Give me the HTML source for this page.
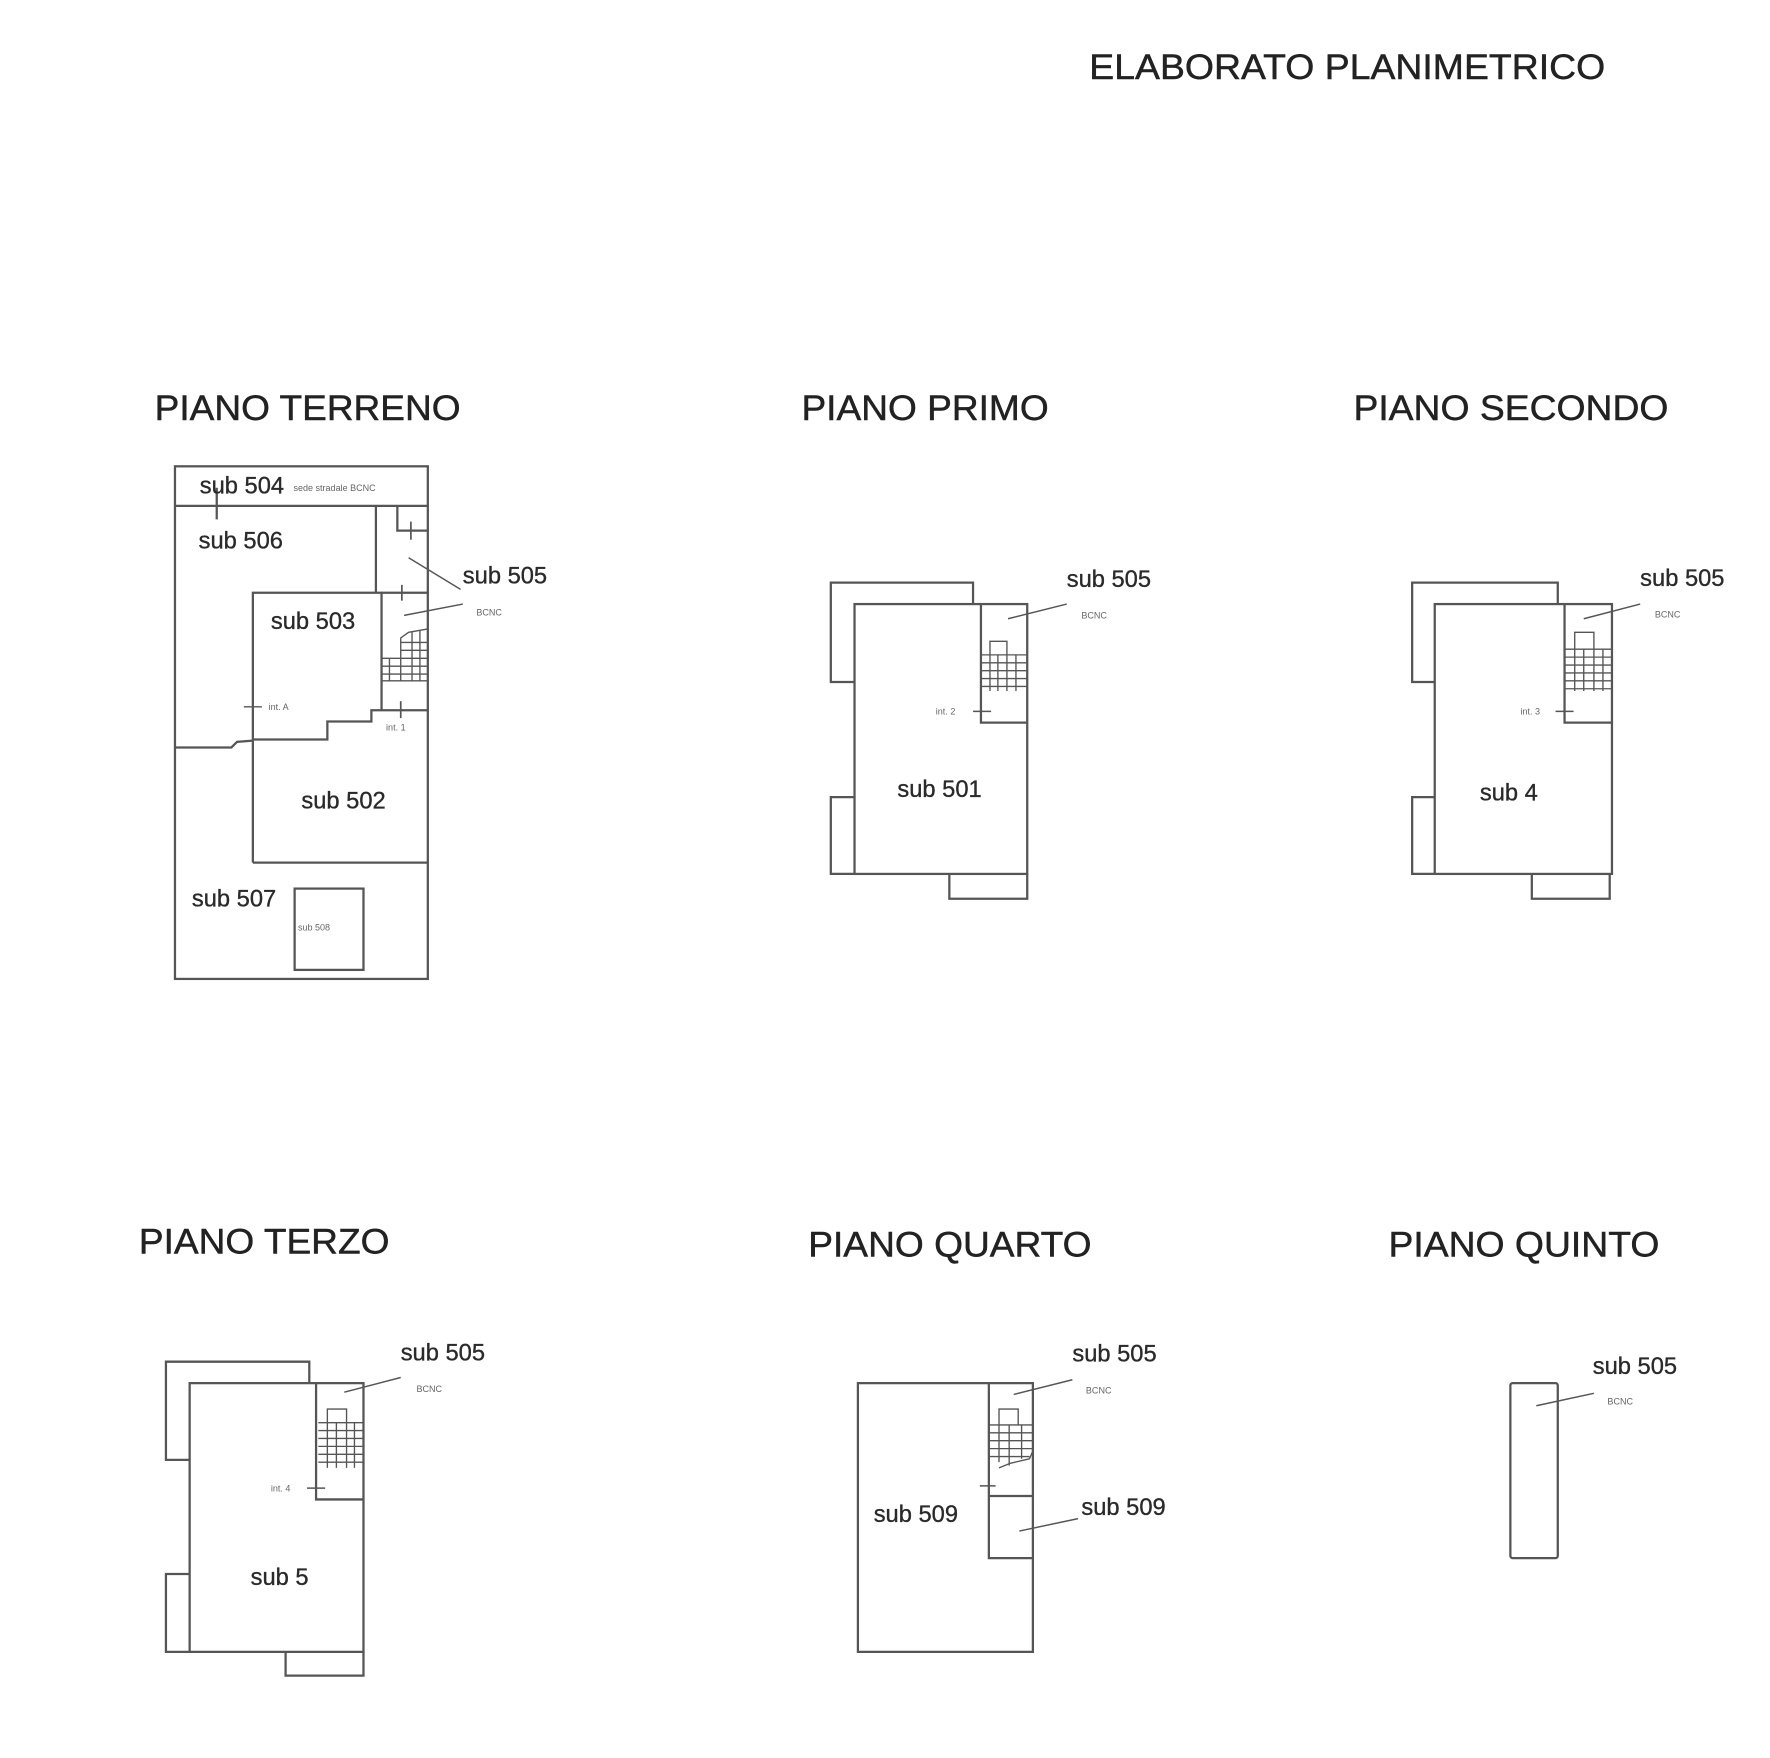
<!DOCTYPE html>
<html><head><meta charset="utf-8"><style>
html,body{margin:0;padding:0;background:#fff;width:1770px;height:1758px;overflow:hidden}
svg{display:block}
text{font-family:"Liberation Sans",Arial,sans-serif;fill:#2a2a2a}
.t{font-size:31px;fill:#222;stroke:#222;stroke-width:0.4}
.s{font-size:21px;stroke:#2a2a2a;stroke-width:0.3}
.m{font-size:8px;fill:#666}
</style></head><body>
<svg width="1770" height="1758" viewBox="0 0 1568 1557" preserveAspectRatio="none" xmlns="http://www.w3.org/2000/svg">
<g stroke="#555" stroke-width="2" fill="none">
<!-- PIANO TERRENO -->
<rect x="155" y="413" width="224" height="454"/>
<line x1="155" y1="448" x2="379" y2="448"/>
<line x1="192" y1="432" x2="192" y2="460"/>
<line x1="333" y1="448" x2="333" y2="525"/>
<polyline points="352,448 352,470 379,470"/>
<line x1="364" y1="462" x2="364" y2="478" stroke-width="1.5"/>
<polyline points="338,629 338,525 224,525 224,764"/>
<line x1="338" y1="525" x2="379" y2="525"/>
<line x1="356" y1="518" x2="356" y2="532" stroke-width="1.5"/>
<polyline points="155,662 205,662 210,657 224,656"/>
<polyline points="224,655 290,655 290,639 329,639 329,629 379,629"/>
<line x1="355" y1="621" x2="355" y2="636" stroke-width="1.5"/>
<line x1="224" y1="764" x2="379" y2="764"/>
<rect x="261" y="787" width="61" height="72"/>
<line x1="362" y1="494" x2="408" y2="522" stroke-width="1.3"/>
<line x1="358" y1="545" x2="410" y2="535" stroke-width="1.3"/>
<line x1="216" y1="626" x2="232" y2="626" stroke-width="1.3"/>
<g stroke-width="1.2">
<polyline points="355,603 355,565 362,560 379,557"/>
<line x1="338" y1="583" x2="379" y2="583"/><line x1="338" y1="590" x2="379" y2="590"/><line x1="338" y1="597" x2="379" y2="597"/><line x1="338" y1="603" x2="379" y2="603"/>
<line x1="355" y1="569" x2="379" y2="569"/><line x1="355" y1="576" x2="379" y2="576"/>
<line x1="345" y1="583" x2="345" y2="603"/><line x1="365" y1="560" x2="365" y2="603"/><line x1="372" y1="558" x2="372" y2="603"/>
</g>
<!-- PIANO PRIMO -->
<rect x="757" y="535" width="153" height="239"/>
<polyline points="757,604 736,604 736,516 862,516 862,535"/>
<polyline points="757,706 736,706 736,774 757,774"/>
<polyline points="841,774 841,796 910,796 910,774"/>
<polyline points="869,535 869,640 910,640"/>
<line x1="893" y1="548" x2="945" y2="535" stroke-width="1.3"/>
<line x1="862" y1="630" x2="878" y2="630" stroke-width="1.3"/>
<g stroke-width="1.2">
<polyline points="877,612 877,568 892,568 892,612"/>
<line x1="869" y1="580" x2="910" y2="580"/><line x1="869" y1="587" x2="910" y2="587"/><line x1="869" y1="594" x2="910" y2="594"/><line x1="869" y1="601" x2="910" y2="601"/><line x1="869" y1="608" x2="910" y2="608"/>
<line x1="884" y1="580" x2="884" y2="612"/><line x1="900" y1="580" x2="900" y2="612"/>
</g>
<!-- PIANO SECONDO -->
<rect x="1271" y="535" width="157" height="239"/>
<polyline points="1271,604 1251,604 1251,516 1380,516 1380,535"/>
<polyline points="1271,706 1251,706 1251,774 1271,774"/>
<polyline points="1357,774 1357,796 1426,796 1426,774"/>
<polyline points="1386,535 1386,640 1428,640"/>
<line x1="1403" y1="548" x2="1453" y2="535" stroke-width="1.3"/>
<line x1="1378" y1="630" x2="1394" y2="630" stroke-width="1.3"/>
<g stroke-width="1.2">
<polyline points="1395,612 1395,560 1412,560 1412,612"/>
<line x1="1386" y1="575" x2="1428" y2="575"/><line x1="1386" y1="582" x2="1428" y2="582"/><line x1="1386" y1="589" x2="1428" y2="589"/><line x1="1386" y1="596" x2="1428" y2="596"/><line x1="1386" y1="603" x2="1428" y2="603"/><line x1="1386" y1="610" x2="1428" y2="610"/>
<line x1="1403" y1="575" x2="1403" y2="612"/><line x1="1420" y1="575" x2="1420" y2="612"/>
</g>
<!-- PIANO TERZO -->
<rect x="168" y="1225" width="154" height="238"/>
<polyline points="168,1293 147,1293 147,1206 274,1206 274,1225"/>
<polyline points="168,1394 147,1394 147,1463 168,1463"/>
<polyline points="253,1463 253,1484 322,1484 322,1463"/>
<polyline points="280,1225 280,1328 322,1328"/>
<line x1="305" y1="1233" x2="355" y2="1220" stroke-width="1.3"/>
<line x1="272" y1="1318" x2="288" y2="1318" stroke-width="1.3"/>
<g stroke-width="1.2">
<polyline points="290,1300 290,1248 307,1248 307,1300"/>
<line x1="282" y1="1260" x2="322" y2="1260"/><line x1="282" y1="1267" x2="322" y2="1267"/><line x1="282" y1="1274" x2="322" y2="1274"/><line x1="282" y1="1281" x2="322" y2="1281"/><line x1="282" y1="1288" x2="322" y2="1288"/><line x1="282" y1="1295" x2="322" y2="1295"/>
<line x1="298" y1="1260" x2="298" y2="1300"/><line x1="314" y1="1260" x2="314" y2="1300"/>
</g>
<!-- PIANO QUARTO -->
<rect x="760" y="1225" width="155" height="238"/>
<polyline points="876,1225 876,1380 915,1380"/>
<line x1="876" y1="1325" x2="915" y2="1325"/>
<line x1="898" y1="1235" x2="950" y2="1222" stroke-width="1.3"/>
<line x1="903" y1="1356" x2="955" y2="1345" stroke-width="1.3"/>
<line x1="868" y1="1316" x2="882" y2="1316" stroke-width="1.3"/>
<g stroke-width="1.2">
<polyline points="885,1295 885,1248 902,1248 902,1262"/>
<line x1="876" y1="1262" x2="915" y2="1262"/><line x1="876" y1="1269" x2="915" y2="1269"/><line x1="876" y1="1276" x2="915" y2="1276"/><line x1="876" y1="1283" x2="915" y2="1283"/><line x1="876" y1="1290" x2="912" y2="1290"/>
<polyline points="885,1300 895,1296 912,1292 915,1285"/>
<line x1="894" y1="1262" x2="894" y2="1298"/><line x1="905" y1="1262" x2="905" y2="1292"/>
</g>
<!-- PIANO QUINTO -->
<rect x="1338" y="1225" width="42" height="155" rx="2"/>
<line x1="1361" y1="1245" x2="1412" y2="1234" stroke-width="1.3"/>
</g>

<text class="t" x="965" y="70" textLength="457" lengthAdjust="spacingAndGlyphs">ELABORATO PLANIMETRICO</text>
<text class="t" x="137" y="372" textLength="271" lengthAdjust="spacingAndGlyphs">PIANO TERRENO</text>
<text class="t" x="710" y="372" textLength="219" lengthAdjust="spacingAndGlyphs">PIANO PRIMO</text>
<text class="t" x="1199" y="372" textLength="279" lengthAdjust="spacingAndGlyphs">PIANO SECONDO</text>
<text class="t" x="123" y="1110" textLength="222" lengthAdjust="spacingAndGlyphs">PIANO TERZO</text>
<text class="t" x="716" y="1113" textLength="251" lengthAdjust="spacingAndGlyphs">PIANO QUARTO</text>
<text class="t" x="1230" y="1113" textLength="240" lengthAdjust="spacingAndGlyphs">PIANO QUINTO</text>

<text class="s" x="177" y="437">sub 504</text>
<text class="m" x="260" y="435">sede stradale BCNC</text>
<text class="s" x="176" y="486">sub 506</text>
<text class="s" x="410" y="517">sub 505</text>
<text class="m" x="422" y="545">BCNC</text>
<text class="s" x="240" y="557">sub 503</text>
<text class="m" x="238" y="629">int. A</text>
<text class="m" x="342" y="647">int. 1</text>
<text class="s" x="267" y="716">sub 502</text>
<text class="s" x="170" y="803">sub 507</text>
<text class="m" x="264" y="824">sub 508</text>

<text class="s" x="945" y="520">sub 505</text>
<text class="m" x="958" y="548">BCNC</text>
<text class="m" x="829" y="633">int. 2</text>
<text class="s" x="795" y="706">sub 501</text>

<text class="s" x="1453" y="519">sub 505</text>
<text class="m" x="1466" y="547">BCNC</text>
<text class="m" x="1347" y="633">int. 3</text>
<text class="s" x="1311" y="709">sub 4</text>

<text class="s" x="355" y="1205">sub 505</text>
<text class="m" x="369" y="1233">BCNC</text>
<text class="m" x="240" y="1321">int. 4</text>
<text class="s" x="222" y="1404">sub 5</text>

<text class="s" x="950" y="1206">sub 505</text>
<text class="m" x="962" y="1234">BCNC</text>
<text class="s" x="774" y="1348">sub 509</text>
<text class="s" x="958" y="1342">sub 509</text>

<text class="s" x="1411" y="1217">sub 505</text>
<text class="m" x="1424" y="1244">BCNC</text>
</svg>
</body></html>
